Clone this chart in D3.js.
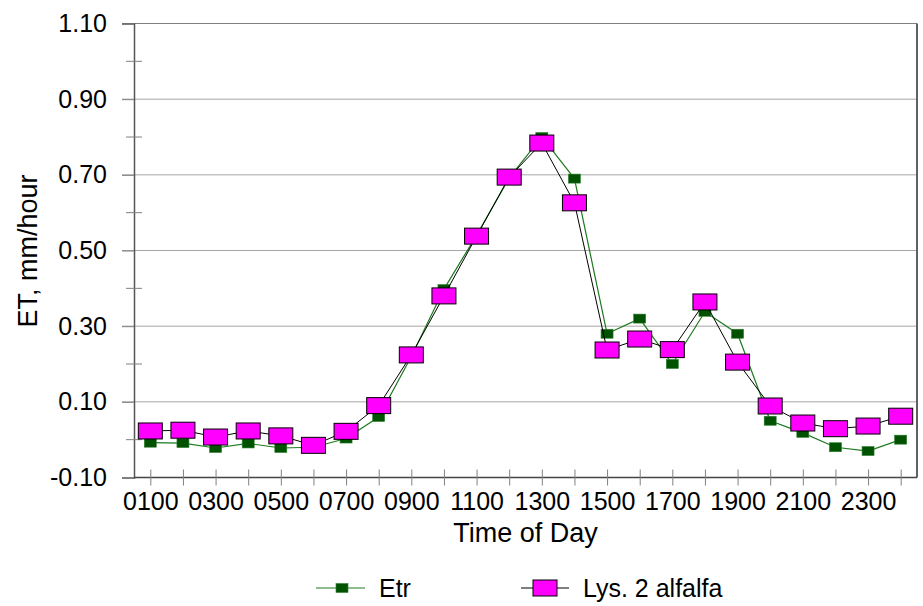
<!DOCTYPE html>
<html>
<head>
<meta charset="utf-8">
<script src="https://cdn.jsdelivr.net/npm/d3@7"></script>
<style>
  body { margin: 0; background: #fff; }
  svg text { font-family: Arial, "Liberation Sans", sans-serif; fill: #000; }
</style>
</head>
<body>
<div id="chart"></div>
<script>
// hours of the day
var hours = ["0100","0200","0300","0400","0500","0600","0700","0800","0900","1000","1100","1200",
             "1300","1400","1500","1600","1700","1800","1900","2000","2100","2200","2300","2400"];
var etr = [-0.008,-0.009,-0.022,-0.010,-0.022,-0.020,0.003,0.060,0.220,0.398,0.540,0.692,
           0.800,0.690,0.280,0.320,0.200,0.338,0.280,0.050,0.018,-0.020,-0.030,0.000];
var lys = [0.023,0.025,0.007,0.023,0.010,-0.015,0.022,0.090,0.224,0.380,0.538,0.694,
           0.784,0.626,0.237,0.266,0.238,0.364,0.205,0.089,0.044,0.029,0.036,0.062];
var yTicks = [-0.10,0.10,0.30,0.50,0.70,0.90,1.10];
var yMinor = [0.00,0.20,0.40,0.60,0.80,1.00];

var width = 923, height = 606;
var plotLeft = 134, plotRight = 917, plotTop = 23.5, plotBottom = 477.5;

var svg = d3.select("#chart").append("svg")
    .attr("width", width)
    .attr("height", height);

var x = d3.scalePoint()
    .domain(hours)
    .range([plotLeft, plotRight])
    .padding(0.5);

var y = d3.scaleLinear()
    .domain([-0.10, 1.10])
    .range([plotBottom, plotTop]);

// gridlines
svg.append("g").selectAll("line")
    .data(yTicks.filter(function(d) { return d > -0.1 && d < 1.1; }))
    .enter().append("line")
    .attr("x1", plotLeft - 12).attr("x2", plotRight)
    .attr("y1", function(d) { return y(d); })
    .attr("y2", function(d) { return y(d); })
    .attr("stroke", "#a6a6a6")
    .attr("stroke-width", 1);

// top border
svg.append("line")
    .attr("x1", plotLeft - 12).attr("x2", plotRight)
    .attr("y1", y(1.10)).attr("y2", y(1.10))
    .attr("stroke", "#808080");

// right border
svg.append("line")
    .attr("x1", plotRight).attr("x2", plotRight)
    .attr("y1", plotTop).attr("y2", plotBottom)
    .attr("stroke", "#606060")
    .attr("stroke-width", 2);

// y axis
var yAxis = svg.append("g")
    .attr("transform", "translate(" + plotLeft + ",0)")
    .call(d3.axisLeft(y).tickValues(yTicks).tickSize(12).tickPadding(15)
        .tickFormat(function(d) { return d.toFixed(2); }));
yAxis.select(".domain").attr("stroke", "#555").attr("stroke-width", 1.5);
yAxis.selectAll(".tick line").attr("stroke", "#808080");
yAxis.selectAll("text").attr("font-size", 25).attr("font-family", "Arial, 'Liberation Sans', sans-serif");

svg.append("g").selectAll("line")
    .data(yMinor)
    .enter().append("line")
    .attr("x1", plotLeft - 8).attr("x2", plotLeft + 8)
    .attr("y1", function(d) { return y(d); })
    .attr("y2", function(d) { return y(d); })
    .attr("stroke", "#808080");

// x axis
var xAxis = svg.append("g")
    .attr("transform", "translate(0," + plotBottom + ")")
    .call(d3.axisBottom(x).tickSizeInner(8).tickSizeOuter(0).tickPadding(6.5)
        .tickFormat(function(d, i) { return i % 2 === 0 ? d : ""; }));
xAxis.select(".domain").attr("stroke", "#444").attr("stroke-width", 1.5)
    .attr("d", "M" + plotLeft + ",0H" + plotRight);
xAxis.selectAll(".tick line").attr("y1", -8).attr("stroke", "#808080");
xAxis.selectAll("text").attr("font-size", 25).attr("font-family", "Arial, 'Liberation Sans', sans-serif");

// axis titles
svg.append("text")
    .attr("x", (plotLeft + plotRight) / 2)
    .attr("y", 542)
    .attr("text-anchor", "middle")
    .attr("font-size", 27)
    .text("Time of Day");

svg.append("text")
    .attr("transform", "translate(37,251) rotate(-90)")
    .attr("text-anchor", "middle")
    .attr("font-size", 27)
    .text("ET, mm/hour");

var line = d3.line()
    .x(function(d, i) { return x(hours[i]); })
    .y(function(d) { return y(d); });

// Etr series
svg.append("path")
    .datum(etr)
    .attr("d", line)
    .attr("fill", "none")
    .attr("stroke", "#1e7a1e")
    .attr("stroke-width", 1.2);

svg.append("g").selectAll("rect")
    .data(etr)
    .enter().append("rect")
    .attr("x", function(d, i) { return x(hours[i]) - 6; })
    .attr("y", function(d) { return y(d) - 4.5; })
    .attr("width", 12)
    .attr("height", 9)
    .attr("fill", "#005200")
    .attr("stroke", "#2f7f2f")
    .attr("stroke-width", 0.6);

// Lys. 2 alfalfa series
svg.append("path")
    .datum(lys)
    .attr("d", line)
    .attr("fill", "none")
    .attr("stroke", "#000")
    .attr("stroke-width", 1);

svg.append("g").selectAll("rect")
    .data(lys)
    .enter().append("rect")
    .attr("x", function(d, i) { return x(hours[i]) - 12; })
    .attr("y", function(d) { return y(d) - 8; })
    .attr("width", 24)
    .attr("height", 16)
    .attr("fill", "#ff00ff")
    .attr("stroke", "#000")
    .attr("stroke-width", 1);

// legend
var legY = 588;
svg.append("line")
    .attr("x1", 316).attr("x2", 365)
    .attr("y1", legY).attr("y2", legY)
    .attr("stroke", "#1e7a1e").attr("stroke-width", 1.2);
svg.append("rect")
    .attr("x", 336).attr("y", legY - 4.5)
    .attr("width", 12).attr("height", 9)
    .attr("fill", "#005200").attr("stroke", "#2f7f2f").attr("stroke-width", 0.6);
svg.append("text")
    .attr("x", 379).attr("y", legY + 9)
    .attr("font-size", 25)
    .text("Etr");

svg.append("line")
    .attr("x1", 521).attr("x2", 569)
    .attr("y1", legY).attr("y2", legY)
    .attr("stroke", "#000");
svg.append("rect")
    .attr("x", 533).attr("y", legY - 8)
    .attr("width", 24).attr("height", 16)
    .attr("fill", "#ff00ff").attr("stroke", "#000");
svg.append("text")
    .attr("x", 583).attr("y", legY + 9)
    .attr("font-size", 25)
    .text("Lys. 2 alfalfa");
</script>
</body>
</html>
